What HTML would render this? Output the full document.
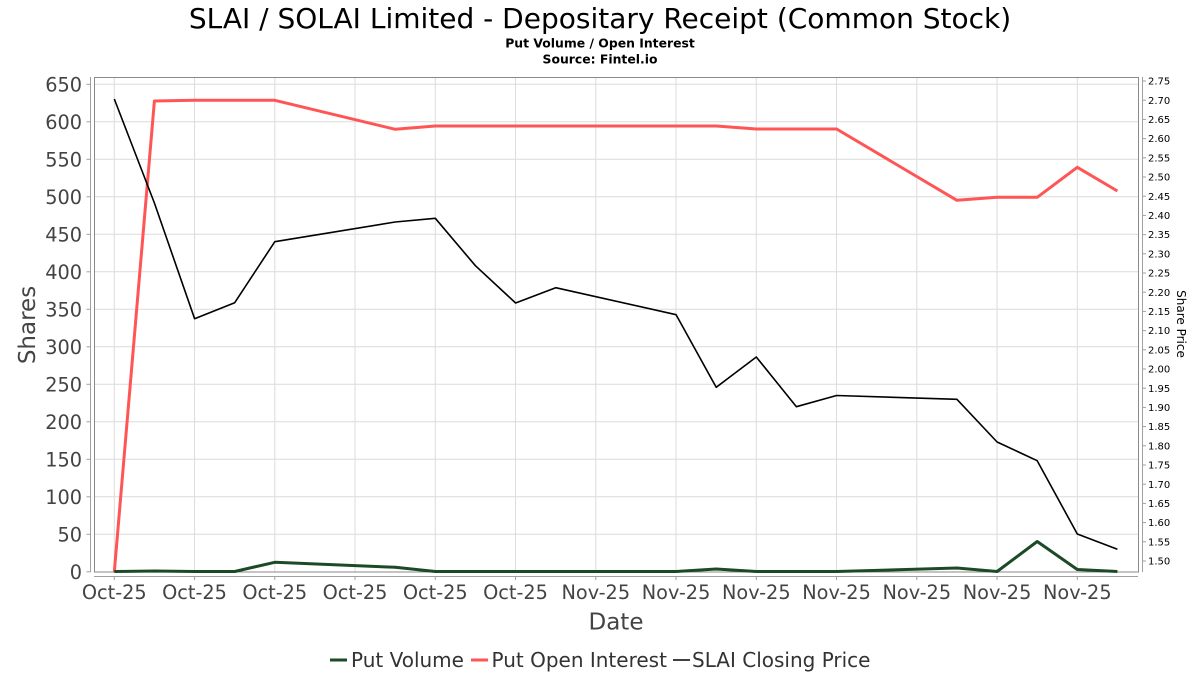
<!DOCTYPE html>
<html>
<head>
<meta charset="utf-8">
<style>
  html,body{margin:0;padding:0;background:#fff;}
  svg{display:block;}
  text{font-family:"DejaVu Sans","Liberation Sans",sans-serif;}
</style>
</head>
<body>
<svg width="1200" height="675" viewBox="0 0 1200 675" xmlns="http://www.w3.org/2000/svg">
  <rect x="0" y="0" width="1200" height="675" fill="#ffffff"/>

  <!-- Titles -->
  <text x="600" y="28" font-size="28" text-anchor="middle" fill="#000">SLAI / SOLAI Limited - Depositary Receipt (Common Stock)</text>
  <text x="600" y="47.5" font-size="12.4" font-weight="bold" text-anchor="middle" fill="#000">Put Volume / Open Interest</text>
  <text x="600" y="63.5" font-size="12.4" font-weight="bold" text-anchor="middle" fill="#000">Source: Fintel.io</text>

  <!-- Horizontal grid -->
  <g stroke="#dcdcdc" stroke-width="1">
    <line x1="94" y1="84.3" x2="1138" y2="84.3"/>
    <line x1="94" y1="121.8" x2="1138" y2="121.8"/>
    <line x1="94" y1="159.3" x2="1138" y2="159.3"/>
    <line x1="94" y1="196.8" x2="1138" y2="196.8"/>
    <line x1="94" y1="234.3" x2="1138" y2="234.3"/>
    <line x1="94" y1="271.8" x2="1138" y2="271.8"/>
    <line x1="94" y1="309.3" x2="1138" y2="309.3"/>
    <line x1="94" y1="346.8" x2="1138" y2="346.8"/>
    <line x1="94" y1="384.3" x2="1138" y2="384.3"/>
    <line x1="94" y1="421.8" x2="1138" y2="421.8"/>
    <line x1="94" y1="459.3" x2="1138" y2="459.3"/>
    <line x1="94" y1="496.8" x2="1138" y2="496.8"/>
    <line x1="94" y1="534.3" x2="1138" y2="534.3"/>
  </g>
  <!-- Vertical grid -->
  <g stroke="#dcdcdc" stroke-width="1">
    <line x1="114.3" y1="77.5" x2="114.3" y2="572"/>
    <line x1="194.55" y1="77.5" x2="194.55" y2="572"/>
    <line x1="274.8" y1="77.5" x2="274.8" y2="572"/>
    <line x1="355.05" y1="77.5" x2="355.05" y2="572"/>
    <line x1="435.3" y1="77.5" x2="435.3" y2="572"/>
    <line x1="515.55" y1="77.5" x2="515.55" y2="572"/>
    <line x1="595.8" y1="77.5" x2="595.8" y2="572"/>
    <line x1="676.05" y1="77.5" x2="676.05" y2="572"/>
    <line x1="756.3" y1="77.5" x2="756.3" y2="572"/>
    <line x1="836.55" y1="77.5" x2="836.55" y2="572"/>
    <line x1="916.8" y1="77.5" x2="916.8" y2="572"/>
    <line x1="997.05" y1="77.5" x2="997.05" y2="572"/>
    <line x1="1077.3" y1="77.5" x2="1077.3" y2="572"/>
  </g>

  <!-- Plot border -->
  <rect x="94.5" y="77.5" width="1044" height="494.5" fill="none" stroke="#8a8a8a" stroke-width="1"/>

  <!-- Axis lines -->
  <g stroke="#a0a0a0" stroke-width="1">
    <line x1="90.5" y1="77" x2="90.5" y2="572"/>
    <line x1="94" y1="576.5" x2="1138" y2="576.5"/>
    <line x1="1142.5" y1="77" x2="1142.5" y2="572"/>
  </g>

  <!-- Left ticks -->
  <g stroke="#a0a0a0" stroke-width="1">
    <line x1="86.5" y1="84.3" x2="90.5" y2="84.3"/>
    <line x1="86.5" y1="121.8" x2="90.5" y2="121.8"/>
    <line x1="86.5" y1="159.3" x2="90.5" y2="159.3"/>
    <line x1="86.5" y1="196.8" x2="90.5" y2="196.8"/>
    <line x1="86.5" y1="234.3" x2="90.5" y2="234.3"/>
    <line x1="86.5" y1="271.8" x2="90.5" y2="271.8"/>
    <line x1="86.5" y1="309.3" x2="90.5" y2="309.3"/>
    <line x1="86.5" y1="346.8" x2="90.5" y2="346.8"/>
    <line x1="86.5" y1="384.3" x2="90.5" y2="384.3"/>
    <line x1="86.5" y1="421.8" x2="90.5" y2="421.8"/>
    <line x1="86.5" y1="459.3" x2="90.5" y2="459.3"/>
    <line x1="86.5" y1="496.8" x2="90.5" y2="496.8"/>
    <line x1="86.5" y1="534.3" x2="90.5" y2="534.3"/>
    <line x1="86.5" y1="571.8" x2="90.5" y2="571.8"/>
  </g>
  <g font-size="19.3" fill="#444" text-anchor="end">
    <text x="82" y="91.3">650</text>
    <text x="82" y="128.8">600</text>
    <text x="82" y="166.3">550</text>
    <text x="82" y="203.8">500</text>
    <text x="82" y="241.3">450</text>
    <text x="82" y="278.8">400</text>
    <text x="82" y="316.3">350</text>
    <text x="82" y="353.8">300</text>
    <text x="82" y="391.3">250</text>
    <text x="82" y="428.8">200</text>
    <text x="82" y="466.3">150</text>
    <text x="82" y="503.8">100</text>
    <text x="82" y="541.3">50</text>
    <text x="82" y="578.8">0</text>
  </g>

  <!-- Bottom ticks -->
  <g stroke="#a0a0a0" stroke-width="1">
    <line x1="114.3" y1="576.5" x2="114.3" y2="580"/>
    <line x1="194.55" y1="576.5" x2="194.55" y2="580"/>
    <line x1="274.8" y1="576.5" x2="274.8" y2="580"/>
    <line x1="355.05" y1="576.5" x2="355.05" y2="580"/>
    <line x1="435.3" y1="576.5" x2="435.3" y2="580"/>
    <line x1="515.55" y1="576.5" x2="515.55" y2="580"/>
    <line x1="595.8" y1="576.5" x2="595.8" y2="580"/>
    <line x1="676.05" y1="576.5" x2="676.05" y2="580"/>
    <line x1="756.3" y1="576.5" x2="756.3" y2="580"/>
    <line x1="836.55" y1="576.5" x2="836.55" y2="580"/>
    <line x1="916.8" y1="576.5" x2="916.8" y2="580"/>
    <line x1="997.05" y1="576.5" x2="997.05" y2="580"/>
    <line x1="1077.3" y1="576.5" x2="1077.3" y2="580"/>
  </g>
  <g font-size="19.3" fill="#444" text-anchor="middle">
    <text x="114.3" y="599">Oct-25</text>
    <text x="194.55" y="599">Oct-25</text>
    <text x="274.8" y="599">Oct-25</text>
    <text x="355.05" y="599">Oct-25</text>
    <text x="435.3" y="599">Oct-25</text>
    <text x="515.55" y="599">Oct-25</text>
    <text x="595.8" y="599">Nov-25</text>
    <text x="676.05" y="599">Nov-25</text>
    <text x="756.3" y="599">Nov-25</text>
    <text x="836.55" y="599">Nov-25</text>
    <text x="916.8" y="599">Nov-25</text>
    <text x="997.05" y="599">Nov-25</text>
    <text x="1077.3" y="599">Nov-25</text>
  </g>

  <!-- Right ticks -->
  <g stroke="#a0a0a0" stroke-width="1">
    <line x1="1142.5" y1="81" x2="1146" y2="81"/>
    <line x1="1142.5" y1="100.2" x2="1146" y2="100.2"/>
    <line x1="1142.5" y1="119.4" x2="1146" y2="119.4"/>
    <line x1="1142.5" y1="138.6" x2="1146" y2="138.6"/>
    <line x1="1142.5" y1="157.8" x2="1146" y2="157.8"/>
    <line x1="1142.5" y1="177" x2="1146" y2="177"/>
    <line x1="1142.5" y1="196.2" x2="1146" y2="196.2"/>
    <line x1="1142.5" y1="215.4" x2="1146" y2="215.4"/>
    <line x1="1142.5" y1="234.6" x2="1146" y2="234.6"/>
    <line x1="1142.5" y1="253.8" x2="1146" y2="253.8"/>
    <line x1="1142.5" y1="273" x2="1146" y2="273"/>
    <line x1="1142.5" y1="292.2" x2="1146" y2="292.2"/>
    <line x1="1142.5" y1="311.4" x2="1146" y2="311.4"/>
    <line x1="1142.5" y1="330.6" x2="1146" y2="330.6"/>
    <line x1="1142.5" y1="349.8" x2="1146" y2="349.8"/>
    <line x1="1142.5" y1="369" x2="1146" y2="369"/>
    <line x1="1142.5" y1="388.2" x2="1146" y2="388.2"/>
    <line x1="1142.5" y1="407.4" x2="1146" y2="407.4"/>
    <line x1="1142.5" y1="426.6" x2="1146" y2="426.6"/>
    <line x1="1142.5" y1="445.8" x2="1146" y2="445.8"/>
    <line x1="1142.5" y1="465" x2="1146" y2="465"/>
    <line x1="1142.5" y1="484.2" x2="1146" y2="484.2"/>
    <line x1="1142.5" y1="503.4" x2="1146" y2="503.4"/>
    <line x1="1142.5" y1="522.6" x2="1146" y2="522.6"/>
    <line x1="1142.5" y1="541.8" x2="1146" y2="541.8"/>
    <line x1="1142.5" y1="561" x2="1146" y2="561"/>
  </g>
  <g font-size="10" fill="#000" text-anchor="start">
    <text x="1148" y="84.6">2.75</text>
    <text x="1148" y="103.8">2.70</text>
    <text x="1148" y="123">2.65</text>
    <text x="1148" y="142.2">2.60</text>
    <text x="1148" y="161.4">2.55</text>
    <text x="1148" y="180.6">2.50</text>
    <text x="1148" y="199.8">2.45</text>
    <text x="1148" y="219">2.40</text>
    <text x="1148" y="238.2">2.35</text>
    <text x="1148" y="257.4">2.30</text>
    <text x="1148" y="276.6">2.25</text>
    <text x="1148" y="295.8">2.20</text>
    <text x="1148" y="315">2.15</text>
    <text x="1148" y="334.2">2.10</text>
    <text x="1148" y="353.4">2.05</text>
    <text x="1148" y="372.6">2.00</text>
    <text x="1148" y="391.8">1.95</text>
    <text x="1148" y="411">1.90</text>
    <text x="1148" y="430.2">1.85</text>
    <text x="1148" y="449.4">1.80</text>
    <text x="1148" y="468.6">1.75</text>
    <text x="1148" y="487.8">1.70</text>
    <text x="1148" y="507">1.65</text>
    <text x="1148" y="526.2">1.60</text>
    <text x="1148" y="545.4">1.55</text>
    <text x="1148" y="564.6">1.50</text>
  </g>

  <!-- Axis titles -->
  <text x="0" y="0" font-size="23" fill="#444" text-anchor="middle" transform="translate(35,325) rotate(-90)">Shares</text>
  <text x="0" y="0" font-size="12" fill="#000" text-anchor="middle" transform="translate(1177,324) rotate(90)">Share Price</text>
  <text x="616" y="629.5" font-size="23" fill="#444" text-anchor="middle">Date</text>

  <!-- Series: Put Open Interest (red) -->
  <polyline fill="none" stroke="#ff5555" stroke-width="3" stroke-linejoin="round"
    points="114.3,572 154.4,101 194.6,100.3 234.7,100.3 274.8,100.3 395.2,129.3 435.3,126 475.4,126 515.6,126 555.7,126 676.1,126 716.2,126 756.3,129 796.4,129 836.6,129 956.9,200.3 997.1,197.3 1037.2,197.3 1077.3,167.3 1117.4,191"/>

  <!-- Series: Put Volume (dark green) -->
  <polyline fill="none" stroke="#1c4a26" stroke-width="3" stroke-linejoin="round"
    points="114.3,571.5 154.4,571 194.6,571.5 234.7,571.5 274.8,562.3 395.2,567.3 435.3,571.5 475.4,571.5 515.6,571.5 555.7,571.5 676.1,571.5 716.2,569 756.3,571.5 796.4,571.5 836.6,571.5 956.9,568 997.1,571.5 1037.2,541.5 1077.3,569.5 1117.4,571.5"/>

  <!-- Series: SLAI Closing Price (black) -->
  <polyline fill="none" stroke="#000" stroke-width="1.6" stroke-linejoin="round"
    points="114.3,99 154.4,203 194.6,318.7 234.7,302.7 274.8,241.7 395.2,222 435.3,218.3 475.4,265.7 515.6,303 555.7,287.7 676.1,314.7 716.2,387.3 756.3,357 796.4,406.7 836.6,395.5 956.9,399.3 997.1,442 1037.2,460.7 1077.3,534 1117.4,549.3"/>

  <!-- Legend -->
  <line x1="330" y1="660" x2="347" y2="660" stroke="#1c4a26" stroke-width="3"/>
  <text x="351" y="667" font-size="20" fill="#333">Put Volume</text>
  <line x1="471" y1="660" x2="488" y2="660" stroke="#ff5555" stroke-width="3"/>
  <text x="491.5" y="667" font-size="20" fill="#333">Put Open Interest</text>
  <line x1="673" y1="660" x2="690" y2="660" stroke="#000" stroke-width="1.6"/>
  <text x="692" y="667" font-size="20" fill="#333">SLAI Closing Price</text>
</svg>
</body>
</html>
